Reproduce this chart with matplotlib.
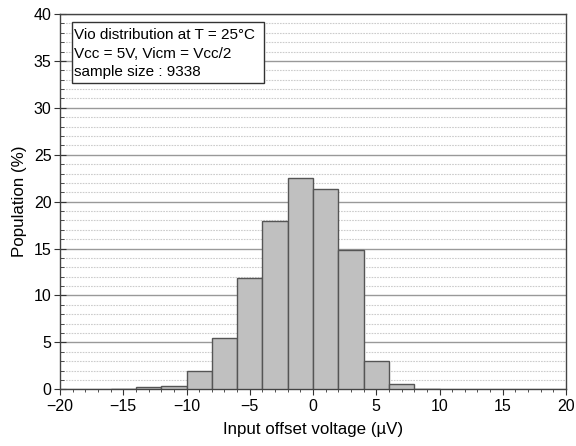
import matplotlib
matplotlib.use("Agg")
import matplotlib.pyplot as plt
from matplotlib.ticker import MultipleLocator, FuncFormatter
from matplotlib.patches import Rectangle

plt.rcParams['font.family'] = ['Liberation Sans', 'DejaVu Sans']

bin_left = [-16, -14, -12, -10, -8, -6, -4, -2, 0, 2, 4, 6, 8]
population = [0.05, 0.2, 0.4, 2.0, 5.5, 11.9, 17.9, 22.5, 21.3, 14.9, 3.05, 0.6, 0.05]
bin_width = 2
xlabel = "Input offset voltage (\u00b5V)"
ylabel = "Population (%)"
note_lines = ["Vio distribution at T = 25\u00b0C", "Vcc = 5V, Vicm = Vcc/2", "sample size : 9338"]

W, H = 576, 446
L, R, T, B = 60, 566, 14, 389.3
fig = plt.figure(figsize=(W/100, H/100), dpi=100)
ax = fig.add_axes([L/W, (H-B)/H, (R-L)/W, (B-T)/H])

ax.bar(bin_left, population, width=bin_width, align='edge',
       color='#c0c0c0', edgecolor='#555555', linewidth=1.0, zorder=3)

ax.set_xlim(-20, 20)
ax.set_ylim(0, 40)
ax.xaxis.set_major_locator(MultipleLocator(5))
ax.xaxis.set_minor_locator(MultipleLocator(1))
ax.yaxis.set_major_locator(MultipleLocator(5))
ax.yaxis.set_minor_locator(MultipleLocator(1))

ax.grid(which='major', axis='y', color='#999999', linewidth=1.0, zorder=0)
ax.grid(which='minor', axis='y', color='#cccccc', linewidth=0.8, linestyle=(0, (1.5, 1)), zorder=0)

ax.tick_params(axis='x', which='major', direction='out', length=4, labelsize=11.5, color='#333333', pad=3)
ax.tick_params(axis='x', which='minor', direction='out', length=2.5, color='#333333')
ax.tick_params(axis='y', which='major', direction='inout', length=8, labelsize=11.5, color='#333333', pad=2)
ax.tick_params(axis='y', which='minor', direction='in', length=3, color='#333333')
ax.yaxis.set_major_formatter(FuncFormatter(lambda v, p: f"{int(v)}"))
ax.xaxis.set_major_formatter(FuncFormatter(lambda v, p: f"{int(v)}".replace('-', '\u2212')))

for s in ax.spines.values():
    s.set_color('#444444')
    s.set_linewidth(1.0)

ax.set_xlabel(xlabel, fontsize=12.2, labelpad=6)
ax.set_ylabel(ylabel, fontsize=12.2, labelpad=5)

def fx(px):
    return (px - L) / (R - L)

def fy(py):
    return (B - py) / (B - T)

box = Rectangle((fx(72), fy(83)), fx(264) - fx(72), fy(22) - fy(83), transform=ax.transAxes,
                facecolor='white', edgecolor='#333333', linewidth=1.0, zorder=5)
ax.add_patch(box)
for line, py in zip(note_lines, [35, 53.5, 72]):
    ax.text(fx(74), fy(py), line, transform=ax.transAxes, va='center', ha='left',
            fontsize=11, zorder=6)

fig.savefig("out.png", dpi=100)
